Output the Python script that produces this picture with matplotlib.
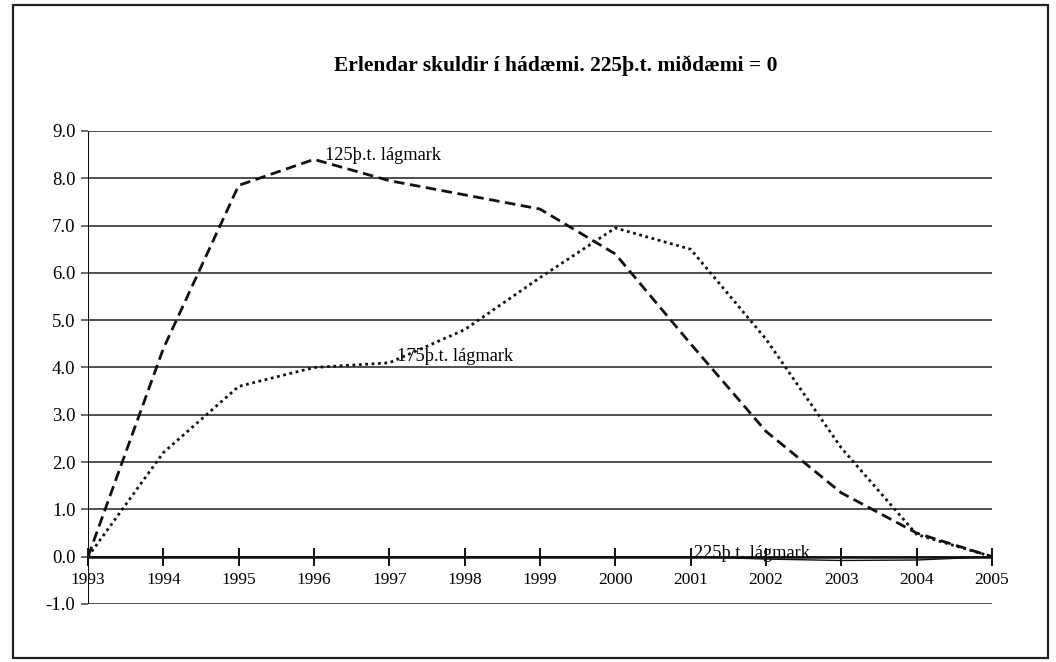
import matplotlib
matplotlib.use("Agg")
import matplotlib.pyplot as plt
from matplotlib.patches import Rectangle

plt.rcParams['font.family'] = ['Liberation Serif', 'DejaVu Serif']

years = [1993, 1994, 1995, 1996, 1997, 1998, 1999, 2000, 2001, 2002, 2003, 2004, 2005]
low_125 = [0.0, 4.4, 7.85, 8.4, 7.95, 7.65, 7.35, 6.4, 4.5, 2.65, 1.35, 0.5, 0.0]
low_175 = [0.0, 2.2, 3.6, 4.0, 4.1, 4.8, 5.9, 6.95, 6.5, 4.6, 2.3, 0.47, 0.0]
low_225 = [0.0, 0.0, 0.0, 0.0, 0.0, 0.0, 0.0, 0.0, 0.0, -0.05, -0.08, -0.07, 0.0]
y_ticks = [-1, 0, 1, 2, 3, 4, 5, 6, 7, 8, 9]
y_labels = [f"{v:.1f}" for v in y_ticks]

title = "Erlendar skuldir í hádæmi. 225þ.t. miðdæmi = 0"

fig = plt.figure(figsize=(10.56, 6.62), dpi=100)
fig.patches.append(Rectangle((13 / 1056, 1 - 658 / 662), (1048 - 13) / 1056, (658 - 5) / 662,
                             transform=fig.transFigure, fill=False, edgecolor='#222222',
                             linewidth=1.6))

ax = fig.add_axes([88 / 1056, 1 - 604 / 662, (992 - 88) / 1056, (604 - 131) / 662])
ax.set_xlim(years[0], years[-1])
ax.set_ylim(y_ticks[0], y_ticks[-1])
for s in ax.spines.values():
    s.set_visible(False)

# horizontal grid
for v in y_ticks:
    ax.axhline(v, color='#505050', linewidth=1.4, zorder=1)

ax.set_yticks(y_ticks)
ax.set_yticklabels(y_labels, fontsize=13.5)
ax.tick_params(axis='y', direction='out', length=5, width=1.2, color='#505050', pad=4)
ax.set_xticks([])

# axes lines
ax.axvline(years[0], color='#111111', linewidth=1.5, zorder=3)
ax.axhline(0, color='#111111', linewidth=1.8, zorder=3)
ax.plot(years, [0] * len(years), linestyle='none', marker='|', markersize=13,
        markeredgewidth=1.4, color='#111111', zorder=4, clip_on=False)
for yr in years:
    ax.text(yr, -0.5, str(yr), ha='center', va='center', fontsize=12.5)

# series
ax.plot(years, low_125, color='#111111', linewidth=2.0, dashes=(3.8, 2.0), zorder=5)
ax.plot(years, low_175, color='#111111', linewidth=2.0, dashes=(1.0, 1.3), zorder=5)
ax.plot(years, low_225, color='#111111', linewidth=1.0, zorder=5)

ax.text(1996.15, 8.3, "125þ.t. lágmark", fontsize=13.2, va='bottom', ha='left')
ax.text(1997.1, 4.05, "175þ.t. lágmark", fontsize=13.2, va='bottom', ha='left')
ax.text(2001.05, -0.12, "225þ.t. lágmark", fontsize=13.2, va='bottom', ha='left')

fig.text(556 / 1056, 1 - 66 / 662, title, ha='center', va='center',
         fontsize=15.5, fontweight='bold')

fig.savefig("out.png", dpi=100)
